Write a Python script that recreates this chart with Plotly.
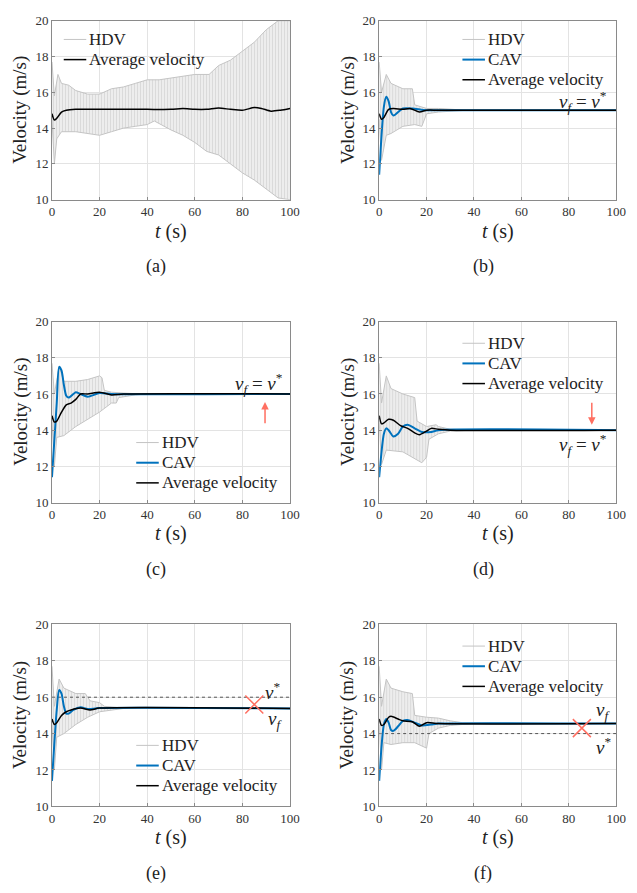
import plotly.graph_objects as go

W, H = 637, 893
FONT = "Liberation Serif, Times New Roman, DejaVu Serif, serif"
GRAY = "#c4c4c4"
BLUE = "#0072BD"
RED = "#ff6f61"

# ---------------- data ----------------
# (a) no CAV
hdv_a_t = [0, 1, 2.5, 4, 7, 10, 15, 20, 25, 30, 35, 40, 45, 50, 55, 60, 66, 70, 75, 80, 85, 90, 95, 100]
hdv_a_up = [17.7, 15.8, 17.0, 16.5, 16.4, 16.1, 15.9, 15.9, 16.2, 16.3, 16.5, 16.7, 16.7, 16.8, 16.9, 17.0, 17.0, 17.5, 17.8, 18.3, 18.8, 19.5, 20.0, 20.0]
hdv_a_lo_t = [0, 1, 2, 4, 10, 15, 20, 25, 30, 35, 40, 43, 47, 50, 55, 60, 65, 70, 75, 80, 85, 90, 95, 100]
hdv_a_lo = [14.5, 12.0, 13.4, 13.8, 13.8, 13.7, 13.6, 13.8, 14.0, 14.1, 14.2, 14.4, 14.1, 13.9, 13.6, 13.2, 12.7, 12.5, 12.0, 11.5, 11.1, 10.6, 10.1, 10.0]
avg_a_t = [0, 1, 2, 4, 6, 10, 20, 30, 40, 50, 55, 60, 65, 70, 75, 80, 85, 88, 92, 96, 100]
avg_a = [14.8, 14.45, 14.55, 14.9, 15.0, 15.05, 15.05, 15.05, 15.05, 15.05, 15.1, 15.05, 15.05, 15.12, 15.05, 15.0, 15.15, 15.1, 14.95, 15.0, 15.1]

# (b)
hdv_b_t = [0, 1, 3, 5, 10, 14, 15, 20, 25, 30, 37, 100]
hdv_b_up = [17.7, 16.0, 17.0, 16.5, 16.2, 16.2, 15.3, 15.1, 15.1, 15.05, 15.0, 15.0]
hdv_b_lo_t = [0, 1, 3, 5, 10, 15, 18, 20, 25, 30, 37, 100]
hdv_b_lo = [14.5, 12.2, 13.6, 13.7, 14.1, 14.2, 14.1, 14.8, 14.9, 14.95, 15.0, 15.0]
cav_b_t = [0, 2, 3, 4, 5, 6, 8, 10, 14, 20, 30, 100]
cav_b = [11.4, 15.2, 15.75, 15.5, 14.9, 14.7, 14.9, 15.1, 15.1, 15.0, 15.0, 15.0]
avg_b_t = [0, 1, 2, 4, 6, 10, 13, 17, 20, 25, 100]
avg_b = [14.8, 14.5, 14.6, 15.05, 15.1, 15.05, 15.1, 14.9, 15.0, 15.0, 15.0]

# (c)
hdv_c_t = [0, 1, 3, 5, 10, 15, 20, 21, 22, 25, 30, 38, 100]
hdv_c_up = [17.7, 16.0, 17.5, 16.7, 16.7, 16.8, 17.0, 16.9, 16.2, 16.1, 16.05, 16.0, 16.0]
hdv_c_lo_t = [0, 1, 2, 5, 10, 15, 20, 25, 27, 28, 35, 40, 100]
hdv_c_lo = [14.5, 12.0, 13.6, 13.7, 14.2, 14.6, 15.0, 15.5, 15.5, 15.8, 15.95, 16.0, 16.0]
cav_c_t = [0, 2, 3, 4, 5, 6, 7, 9, 10, 12, 15, 20, 25, 100]
cav_c = [11.4, 15.5, 17.5, 17.3, 16.5, 15.9, 15.8, 16.0, 16.1, 16.0, 15.85, 16.05, 16.0, 16.0]
avg_c_t = [0, 1, 2, 4, 6, 8, 10, 12, 15, 20, 25, 30, 100]
avg_c = [14.8, 14.45, 14.5, 15.0, 15.4, 15.5, 15.7, 16.0, 16.0, 16.1, 15.95, 16.0, 16.0]

# (d)
hdv_d_t = [0, 1, 3, 5, 10, 15, 16, 20, 24, 25, 30, 38, 100]
hdv_d_up = [17.7, 15.5, 17.0, 16.3, 16.0, 15.8, 14.5, 14.2, 14.3, 14.2, 14.05, 14.0, 14.0]
hdv_d_lo_t = [0, 1, 3, 10, 18, 20, 21, 25, 30, 40, 100]
hdv_d_lo = [14.5, 12.1, 12.9, 12.8, 12.2, 12.5, 13.5, 13.8, 13.95, 14.0, 14.0]
cav_d_t = [0, 2, 3, 4, 6, 8, 10, 12, 15, 18, 22, 25, 100]
cav_d = [11.4, 13.8, 14.1, 14.0, 13.65, 13.8, 14.2, 14.3, 14.1, 13.9, 13.9, 14.0, 14.0]
avg_d_t = [0, 1, 2, 4, 6, 9, 12, 15, 17, 20, 22, 25, 30, 100]
avg_d = [14.8, 14.35, 14.4, 14.6, 14.55, 14.25, 14.1, 13.85, 13.75, 13.95, 14.1, 14.05, 14.0, 14.0]

# (e)
hdv_e_t = [0, 1, 3, 5, 10, 14, 16, 20, 22, 25, 30, 100]
hdv_e_up = [17.7, 15.5, 17.0, 16.5, 16.2, 16.2, 15.8, 15.7, 15.5, 15.45, 15.4, 15.4]
hdv_e_lo_t = [0, 1, 2, 5, 10, 15, 20, 25, 30, 100]
hdv_e_lo = [14.5, 12.0, 13.8, 14.0, 14.5, 14.9, 15.2, 15.3, 15.38, 15.38]
cav_e_t = [0, 2, 3, 4, 5, 6, 7, 9, 12, 15, 20, 100]
cav_e = [11.4, 15.3, 16.4, 16.2, 15.5, 15.1, 15.1, 15.3, 15.45, 15.35, 15.4, 15.38]
avg_e_t = [0, 1, 2, 4, 6, 8, 12, 16, 20, 100]
avg_e = [14.8, 14.5, 14.6, 15.0, 15.2, 15.3, 15.4, 15.3, 15.4, 15.38]
vstar_e = 16.0

# (f)
hdv_f_t = [0, 1, 3, 5, 10, 14, 15, 20, 25, 30, 35, 40, 100]
hdv_f_up = [17.7, 15.5, 17.0, 16.5, 16.3, 16.2, 15.0, 14.9, 14.85, 14.7, 14.6, 14.6, 14.55]
hdv_f_lo_t = [0, 1, 2, 5, 10, 15, 20, 21, 25, 30, 35, 40, 100]
hdv_f_lo = [14.5, 12.0, 13.5, 13.4, 13.5, 13.5, 13.2, 14.0, 14.3, 14.45, 14.5, 14.55, 14.55]
cav_f_t = [0, 2, 3, 4, 5, 6, 8, 10, 12, 15, 18, 22, 25, 100]
cav_f = [11.4, 14.5, 14.8, 14.6, 14.2, 14.15, 14.4, 14.7, 14.75, 14.6, 14.45, 14.5, 14.55, 14.55]
avg_f_t = [0, 1, 2, 4, 5, 8, 10, 14, 17, 20, 25, 100]
avg_f = [14.8, 14.45, 14.5, 14.9, 14.95, 14.8, 14.7, 14.65, 14.4, 14.6, 14.55, 14.55]
vstar_f = 14.0

# red "x" marks (e), (f)
cross_e = (85, 15.6)
cross_f = (85.5, 14.3)

x_ticks = [0, 20, 40, 60, 80, 100]
y_ticks = [10, 12, 14, 16, 18, 20]
panel_labels = ["(a)", "(b)", "(c)", "(d)", "(e)", "(f)"]

# ---------------- layout geometry (pixels) ----------------
cols = [(50, 293), (384, 626)]
rows = [(14, 196), (320, 504), (628, 813)]


def px(x):
    return x / W


def py(y):
    return 1 - y / H


fig = go.Figure()

panels = [
    dict(hdv=(hdv_a_t, hdv_a_up, hdv_a_lo_t, hdv_a_lo), cav=None, avg=(avg_a_t, avg_a)),
    dict(hdv=(hdv_b_t, hdv_b_up, hdv_b_lo_t, hdv_b_lo), cav=(cav_b_t, cav_b), avg=(avg_b_t, avg_b)),
    dict(hdv=(hdv_c_t, hdv_c_up, hdv_c_lo_t, hdv_c_lo), cav=(cav_c_t, cav_c), avg=(avg_c_t, avg_c)),
    dict(hdv=(hdv_d_t, hdv_d_up, hdv_d_lo_t, hdv_d_lo), cav=(cav_d_t, cav_d), avg=(avg_d_t, avg_d)),
    dict(hdv=(hdv_e_t, hdv_e_up, hdv_e_lo_t, hdv_e_lo), cav=(cav_e_t, cav_e), avg=(avg_e_t, avg_e), vstar=vstar_e, cross=cross_e),
    dict(hdv=(hdv_f_t, hdv_f_up, hdv_f_lo_t, hdv_f_lo), cav=(cav_f_t, cav_f), avg=(avg_f_t, avg_f), vstar=vstar_f, cross=cross_f),
]

# legend: text left x, first row center y (pixels)
legend_pos = [(86, 33), (493, 33), (160, 443), (493, 342), (160, 751), (493, 650)]
ROW_GAP = 20.5

annotations = []
shapes = []
layout_axes = {}
for i, p in enumerate(panels):
    r, c = divmod(i, 2)
    xs = "" if i == 0 else str(i + 1)
    xa, ya = "x" + xs, "y" + xs
    x0, x1 = cols[c]
    y0, y1 = rows[r]
    common = dict(showline=True, linecolor="#8a8a8a", linewidth=1, mirror=True,
                  showgrid=True, gridcolor="#e3e3e3", gridwidth=1, zeroline=False,
                  ticks="inside", ticklen=3, tickcolor="#8a8a8a",
                  tickfont=dict(family=FONT, size=13, color="#333"))
    layout_axes["xaxis" + xs] = dict(domain=[px(x0), px(x1)], range=[0, 100], tickvals=x_ticks,
                                     anchor=ya, **common)
    layout_axes["yaxis" + xs] = dict(domain=[py(y1), py(y0)], range=[10, 20], tickvals=y_ticks,
                                     anchor=xa, **common)

    ht, hu, hlt, hl = p["hdv"]
    fig.add_trace(go.Scatter(x=ht, y=hu, mode="lines", name="HDV", xaxis=xa, yaxis=ya,
                             line=dict(color=GRAY, width=1), showlegend=False))
    fig.add_trace(go.Scatter(x=hlt, y=hl, mode="lines", showlegend=False, xaxis=xa, yaxis=ya,
                             line=dict(color=GRAY, width=1), fill="tonexty",
                             fillcolor="#ececec",
                             fillpattern=dict(shape="|", fgcolor="#c6c6c6", bgcolor="#efefef",
                                              size=3, solidity=0.4)))
    if "vstar" in p:
        fig.add_trace(go.Scatter(x=[0, 100], y=[p["vstar"], p["vstar"]], mode="lines", showlegend=False,
                                 xaxis=xa, yaxis=ya, line=dict(color="#555", width=1, dash="dot")))
    entries = [("HDV", GRAY, 1)]
    if p["cav"] is not None:
        fig.add_trace(go.Scatter(x=p["cav"][0], y=p["cav"][1], mode="lines", name="CAV", xaxis=xa, yaxis=ya,
                                 line=dict(color=BLUE, width=2, shape="spline", smoothing=0.7),
                                 showlegend=False))
        entries.append(("CAV", BLUE, 2))
    fig.add_trace(go.Scatter(x=p["avg"][0], y=p["avg"][1], mode="lines", name="Average velocity",
                             xaxis=xa, yaxis=ya, showlegend=False,
                             line=dict(color="black", width=1.5, shape="spline", smoothing=0.7)))
    entries.append(("Average velocity", "black", 1.5))
    if "cross" in p:
        fig.add_trace(go.Scatter(x=[p["cross"][0]], y=[p["cross"][1]], mode="markers", showlegend=False,
                                 xaxis=xa, yaxis=ya,
                                 marker=dict(symbol="x-thin", size=18, line=dict(color=RED, width=1.5))))

    # legend (drawn as layout decorations)
    lx, ly = legend_pos[i]
    for k, (name, col, wd) in enumerate(entries):
        yy = ly + ROW_GAP * k
        shapes.append(dict(type="line", xref="paper", yref="paper", x0=px(lx - 24), x1=px(lx - 1),
                           y0=py(yy), y1=py(yy), line=dict(color=col, width=wd)))
        annotations.append(dict(text=name, x=px(lx), y=py(yy), xref="paper", yref="paper",
                                showarrow=False, xanchor="left", yanchor="middle",
                                font=dict(family=FONT, size=17, color="#222")))

    # axis titles & panel label
    xc = (x0 + x1) / 2
    annotations.append(dict(text="<i>t</i> (s)", x=px(xc), y=py(y1 + 32), xref="paper", yref="paper",
                            showarrow=False, font=dict(family=FONT, size=20, color="#222"),
                            xanchor="center", yanchor="middle"))
    annotations.append(dict(text="Velocity (m/s)", x=px(x0 - 32), y=py((y0 + y1) / 2), xref="paper",
                            yref="paper", showarrow=False, textangle=-90,
                            font=dict(family=FONT, size=19, color="#222"),
                            xanchor="center", yanchor="middle"))
    annotations.append(dict(text=panel_labels[i], x=px(xc - 15), y=py(y1 + 68), xref="paper", yref="paper",
                            showarrow=False, font=dict(family=FONT, size=18, color="#222"),
                            xanchor="center", yanchor="middle"))

VF_EQ = "<i>v<sub>f</sub></i> = <i>v</i><sup>*</sup>"
ann_font = dict(family=FONT, size=19, color="#222")
annotations += [
    dict(text=VF_EQ, x=86, y=15.5, xref="x2", yref="y2", showarrow=False, font=ann_font),
    dict(text=VF_EQ, x=87, y=16.6, xref="x3", yref="y3", showarrow=False, font=ann_font),
    dict(text=VF_EQ, x=86, y=13.2, xref="x4", yref="y4", showarrow=False, font=ann_font),
    dict(text="<i>v</i><sup>*</sup>", x=92.5, y=16.35, xref="x5", yref="y5", showarrow=False, font=ann_font),
    dict(text="<i>v<sub>f</sub></i>", x=93.5, y=14.75, xref="x5", yref="y5", showarrow=False, font=ann_font),
    dict(text="<i>v<sub>f</sub></i>", x=94.5, y=15.25, xref="x6", yref="y6", showarrow=False, font=ann_font),
    dict(text="<i>v</i><sup>*</sup>", x=94.5, y=13.3, xref="x6", yref="y6", showarrow=False, font=ann_font),
    # arrows
    dict(text="", x=89.5, y=15.55, ax=89.5, ay=14.3, xref="x3", yref="y3", axref="x3", ayref="y3",
         showarrow=True, arrowhead=2, arrowsize=1, arrowwidth=1.5, arrowcolor=RED),
    dict(text="", x=89.7, y=14.3, ax=89.7, ay=15.6, xref="x4", yref="y4", axref="x4", ayref="y4",
         showarrow=True, arrowhead=2, arrowsize=1, arrowwidth=1.5, arrowcolor=RED),
]

fig.update_layout(width=W, height=H, autosize=False, margin=dict(l=0, r=0, t=0, b=0),
                  plot_bgcolor="white", paper_bgcolor="white", annotations=annotations,
                  font=dict(family=FONT, color="#222"),
                  shapes=shapes, showlegend=False, **layout_axes)

fig.write_html("out.html", config={"displayModeBar": False},
               post_script="document.body.style.margin='0';document.body.style.overflow='hidden';")
